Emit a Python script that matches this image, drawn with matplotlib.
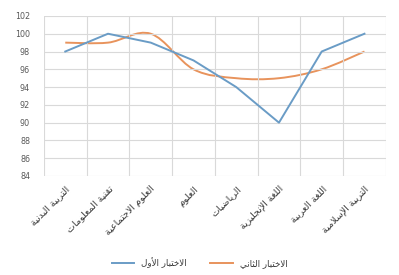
import numpy as np
import matplotlib
matplotlib.use("Agg")
import matplotlib.pyplot as plt
from matplotlib.path import Path
from matplotlib.patches import PathPatch
from matplotlib.lines import Line2D

# subjects (x axis) and the two test series
subjects = ["التربية البدنية", "تقنية المعلومات", "العلوم الاجتماعية", "العلوم",
            "الرياضيات", "اللغة الإنجليزية", "اللغة العربية", "التربية الإسلامية"]
test1 = [98, 100, 99, 97, 94, 90, 98, 100]
test2 = [99, 99, 100, 96, 95, 95, 96, 98]
series_names = ["الاختبار الأول", "الاختبار الثاني"]
yticks = list(range(84, 103, 2))

# --- tiny arabic shaper (matplotlib has no complex text layout) ---
# letter -> (isolated presentation form, dual joining?)
FORMS = {
    "ا": (0xFE8D, False), "أ": (0xFE83, False), "إ": (0xFE87, False), "آ": (0xFE81, False),
    "ب": (0xFE8F, True), "ة": (0xFE93, False), "ت": (0xFE95, True), "ث": (0xFE99, True),
    "ج": (0xFE9D, True), "ح": (0xFEA1, True), "خ": (0xFEA5, True), "د": (0xFEA9, False),
    "ذ": (0xFEAB, False), "ر": (0xFEAD, False), "ز": (0xFEAF, False), "س": (0xFEB1, True),
    "ش": (0xFEB5, True), "ص": (0xFEB9, True), "ض": (0xFEBD, True), "ط": (0xFEC1, True),
    "ظ": (0xFEC5, True), "ع": (0xFEC9, True), "غ": (0xFECD, True), "ف": (0xFED1, True),
    "ق": (0xFED5, True), "ك": (0xFED9, True), "ل": (0xFEDD, True), "م": (0xFEE1, True),
    "ن": (0xFEE5, True), "ه": (0xFEE9, True), "و": (0xFEED, False), "ي": (0xFEF1, True),
    "ى": (0xFEEF, False),
}
LAM_ALEF = {"آ": 0xFEF5, "أ": 0xFEF7, "إ": 0xFEF9, "ا": 0xFEFB}


def shape(text):
    # merge lam + alef into ligature tokens
    toks = []
    i = 0
    while i < len(text):
        c = text[i]
        if c == "ل" and i + 1 < len(text) and text[i + 1] in LAM_ALEF:
            toks.append(("LA", LAM_ALEF[text[i + 1]], False))
            i += 2
            continue
        if c in FORMS:
            toks.append(("L", FORMS[c][0], FORMS[c][1]))
        else:
            toks.append(("X", c, False))
        i += 1
    out = []
    for k, (kind, base, dual) in enumerate(toks):
        if kind == "X":
            out.append(base)
            continue
        prev = toks[k - 1] if k > 0 else None
        nxt = toks[k + 1] if k + 1 < len(toks) else None
        p = prev is not None and prev[0] != "X" and prev[2]
        n = dual and nxt is not None and nxt[0] != "X"
        if p and n:
            cp = base + 3
        elif p:
            cp = base + 1
        elif n:
            cp = base + 2
        else:
            cp = base
        out.append(chr(cp))
    return "".join(out[::-1])


def smooth_path(xs, ys, t=1 / 6):
    # excel-like smoothed line as bezier segments
    pts = np.column_stack([xs, ys]).astype(float)
    verts = [pts[0]]
    codes = [Path.MOVETO]
    for i in range(len(pts) - 1):
        p0 = pts[i - 1] if i > 0 else pts[i]
        p1, p2 = pts[i], pts[i + 1]
        p3 = pts[i + 2] if i + 2 < len(pts) else pts[i + 1]
        verts += [p1 + (p2 - p0) * t, p2 - (p3 - p1) * t, p2]
        codes += [Path.CURVE4] * 3
    return Path(verts, codes)


blue = "#6a9cc6"
orange = "#e8935c"

fig = plt.figure(figsize=(3.99, 2.75), dpi=100)
ax = fig.add_axes([0.11, 0.36, 0.857, 0.582])

x = np.arange(len(subjects))
ax.plot(x, test1, color=blue, lw=1.4)
ax.add_patch(PathPatch(smooth_path(x, test2), fill=False, edgecolor=orange, lw=1.4))

ax.set_xlim(-0.5, len(subjects) - 0.5)
ax.set_ylim(84, 102)
ax.set_yticks(yticks)
ax.set_xticks(x)
ax.set_xticks(np.arange(-0.5, len(subjects)), minor=True)
ax.set_xticklabels([shape(s) for s in subjects], rotation=45, ha="right",
                   rotation_mode="anchor", fontsize=6.8, color="#3a3a3a")
ax.tick_params(axis="y", labelsize=5.8, labelcolor="#595959", length=0, pad=10)
ax.tick_params(axis="x", which="both", length=0, pad=6)
ax.grid(axis="y", color="#d9d9d9", lw=0.8)
ax.grid(axis="x", which="minor", color="#d9d9d9", lw=0.8)
for s in ax.spines.values():
    s.set_visible(False)

handles = [Line2D([], [], color=blue, lw=1.4), Line2D([], [], color=orange, lw=1.4)]
fig.legend(handles, [shape(n) for n in series_names], loc="center",
           bbox_to_anchor=(0.5, 0.045), ncol=2, frameon=False, fontsize=6.3,
           handlelength=2.6, columnspacing=2.6, labelcolor="#3a3a3a")

fig.savefig("out.png", dpi=100)
